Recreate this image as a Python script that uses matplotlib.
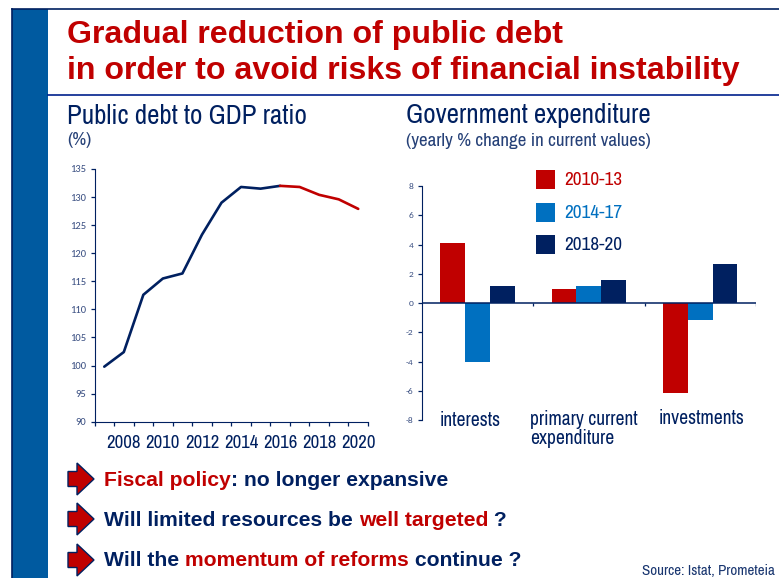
import numpy as np
import matplotlib
matplotlib.use("Agg")
import matplotlib.pyplot as plt
from matplotlib.patches import Polygon, Rectangle
from matplotlib import font_manager as fm

W, H = 779, 578

years = [2007, 2008, 2009, 2010, 2011, 2012, 2013, 2014, 2015, 2016, 2017, 2018, 2019, 2020]
debt = [99.8, 102.4, 112.6, 115.5, 116.4, 123.3, 129.0, 131.8, 131.5, 132.0, 131.8, 130.4, 129.6, 127.9]
actual_until = 2016

categories = ["interests", "primary current\nexpenditure", "investments"]
periods = ["2010-13", "2014-17", "2018-20"]
spend_2010_13 = [4.1, 0.95, -6.15]
spend_2014_17 = [-4.0, 1.15, -1.15]
spend_2018_20 = [1.2, 1.55, 2.7]

NAVY = "#002060"
RED = "#C00000"
BLUE = "#0070C0"
BAND = "#005AA0"
TICK = "#3A4F82"


def first_font(*wanted):
    names = {f.name for f in fm.fontManager.ttflist}
    for name in wanted:
        if name in names:
            return name
    return "Liberation Sans"


NARROW = first_font("Liberation Sans Narrow", "Arimo Narrow", "Archivo Narrow", "PT Sans Narrow", "Roboto Condensed")
ARIAL = "Liberation Sans"
SMALL = first_font("Carlito", "Open Sans")


def px_axes(fig, left, top, right, bottom):
    return fig.add_axes([left / W, 1 - bottom / H, (right - left) / W, (bottom - top) / H])


fig = plt.figure(figsize=(W / 100, H / 100), dpi=100, facecolor="white")

# page furniture in pixel coordinates
page = fig.add_axes([0, 0, 1, 1])
page.set_xlim(0, W)
page.set_ylim(H, 0)
page.axis("off")
page.add_patch(Rectangle((12, 9), 36, H, fc=BAND, ec="none"))
page.plot([12, 12], [9, H], color=NAVY, lw=1.2)
page.plot([12, W], [9, 9], color=NAVY, lw=1.2)
page.plot([48, W], [94.5, 94.5], color="#00208C", lw=1.2)

page.text(67.5, 35.5, "Gradual reduction of public debt", color=RED, fontsize=23.1,
          fontweight="bold", family=ARIAL, va="center")
page.text(67.5, 70.5, "in order to avoid risks of financial instability", color=RED, fontsize=23.1,
          fontweight="bold", family=ARIAL, va="center")

page.text(67, 116, "Public debt to GDP ratio", color=NAVY, fontsize=19.4, family=NARROW, va="center")
page.text(67, 140, "(%)", color=NAVY, fontsize=13.7, family=NARROW, va="center", alpha=0.85)
page.text(406, 116, "Government expenditure", color=NAVY, fontsize=19.4, family=NARROW, va="center")
page.text(406, 141, "(yearly % change in current values)", color=NAVY, fontsize=13.7, family=NARROW,
          va="center", alpha=0.85)

# debt ratio line, red from the last actual year on
ax1 = px_axes(fig, 94.5, 169, 368, 421.7)
x = np.arange(len(years))
split = years.index(actual_until)
ax1.plot(x[:split + 1], debt[:split + 1], color=NAVY, lw=1.9, solid_capstyle="round")
ax1.plot(x[split:], debt[split:], color=RED, lw=1.9, solid_capstyle="round")
ax1.set_xlim(-0.5, len(years) - 0.5)
ax1.set_ylim(90, 135)
ax1.set_yticks(np.arange(90, 136, 5))
ax1.set_xticks(np.arange(len(years) + 1) - 0.5)
ax1.set_xticklabels([])
ax1.tick_params(axis="y", length=3, width=0.9, color=NAVY, labelsize=7.6, labelcolor=TICK, pad=3)
ax1.tick_params(axis="x", length=3, width=0.9, color=NAVY)
for label in ax1.get_yticklabels():
    label.set_family(SMALL)
for i, year in enumerate(years):
    if year % 2 == 0:
        ax1.annotate(str(year), (i, 0), xycoords=("data", "axes fraction"), xytext=(0, -15),
                     textcoords="offset points", ha="center", va="center", color=NAVY,
                     fontsize=13.5, family=NARROW)

# expenditure bars
ax2 = px_axes(fig, 421.7, 186, 756, 420.3)
pos = np.arange(len(categories))
bar_w = 0.222
for offset, vals, col in zip([-1, 0, 1], [spend_2010_13, spend_2014_17, spend_2018_20], [RED, BLUE, NAVY]):
    ax2.bar(pos + offset * bar_w, vals, bar_w, color=col)
ax2.set_xlim(-0.5, 2.5)
ax2.set_ylim(-8, 8)
ax2.set_yticks(np.arange(-8, 9, 2))
ax2.set_yticklabels([str(v) for v in range(-8, 9, 2)])
ax2.set_xticks([])
ax2.tick_params(axis="y", length=3, width=0.9, color=NAVY, labelsize=6.8, labelcolor=TICK, pad=3)
for label in ax2.get_yticklabels():
    label.set_family(SMALL)
ax2.axhline(0, color=NAVY, lw=1.1)
ax2.vlines([0.5, 1.5, 2.5], -0.2, 0, color=NAVY, lw=0.9)

for ax in (ax1, ax2):
    ax.patch.set_alpha(0)
    ax.spines["top"].set_visible(False)
    ax.spines["right"].set_visible(False)
    ax.spines["left"].set_color(NAVY)
ax1.spines["bottom"].set_color(NAVY)
ax2.spines["bottom"].set_visible(False)

# category labels sit at hand-placed spots under the axis
for label, (lx, ly) in zip(categories, [(440, 420), (530, 429), (659, 419)]):
    page.text(lx, ly, label, color=NAVY, fontsize=14, family=NARROW, va="center", linespacing=0.95)

# legend swatches
for i, (label, col) in enumerate(zip(periods, [RED, BLUE, NAVY])):
    y0 = 170 + i * 32.6
    page.add_patch(Rectangle((536, y0), 19, 19, fc=col, ec="none"))
    page.text(564, y0 + 10, label, color=col, fontsize=13.8, family=NARROW, va="center")


# bullet arrows and mixed colour lines
def arrow(yc):
    pts = [(68, yc - 7.5), (77, yc - 7.5), (77, yc - 16), (94, yc), (77, yc + 16), (77, yc + 7.5), (68, yc + 7.5)]
    page.add_patch(Polygon(pts, closed=True, fc=RED, ec=NAVY, lw=1.0, joinstyle="miter"))


def rich_line(xpos, yc, parts):
    renderer = fig.canvas.get_renderer()
    for text, col in parts:
        t = page.text(xpos, yc, text, color=col, fontsize=15.25, fontweight="bold", family=ARIAL,
                      va="center")
        tw, _, _ = renderer.get_text_width_height_descent(text, t.get_fontproperties(), False)
        xpos += tw


lines = [
    (480, [("Fiscal policy", RED), (": no longer expansive", NAVY)]),
    (520, [("Will limited resources be ", NAVY), ("well targeted", RED), (" ?", NAVY)]),
    (561, [("Will the ", NAVY), ("momentum of reforms", RED), (" continue ?", NAVY)]),
]
for yc, parts in lines:
    arrow(yc - 1)
    rich_line(104, yc, parts)

page.text(775, 571, "Source: Istat, Prometeia", color=NAVY, fontsize=10.8, family=NARROW, ha="right",
          va="center", alpha=0.9)

fig.savefig("out.png", dpi=100, facecolor="white")
